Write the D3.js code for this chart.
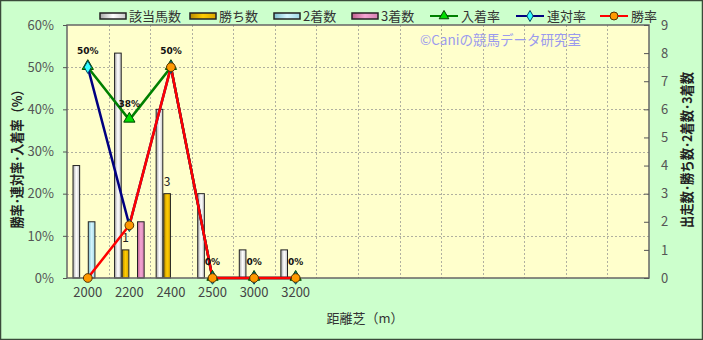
<!DOCTYPE html>
<html><head><meta charset="utf-8">
<script src="https://cdn.jsdelivr.net/npm/d3@7"></script>
<style>body{margin:0;background:#ccffcc;}svg{display:block;}</style>
</head><body>
<svg id="c" width="703" height="340"></svg>
<script>
const categories = ["2000","2200","2400","2500","3000","3200","","","","","","","",""];
const runners = [4,8,6,3,1,1];
const wins = [0,1,3,0,0,0];
const seconds = [2,0,0,0,0,0];
const thirds = [0,2,0,0,0,0];
const placeRate = [50,37.5,50,0,0,0];
const rentaiRate = [50,12.5,50,0,0,0];
const winRate = [0,12.5,50,0,0,0];
const leftTicks = [0,10,20,30,40,50,60];
const rightTicks = [0,1,2,3,4,5,6,7,8,9];

const svg = d3.select("#c");
const font = "'Noto Sans CJK JP','Noto Sans',sans-serif";
const L=67,R=649,T=25,B=278;
svg.append("rect").attr("x",0.5).attr("y",0.5).attr("width",702).attr("height",339)
  .attr("fill","#ccffcc").attr("stroke","#3a4a3a").attr("stroke-width",1.5);

const defs = svg.append("defs");
function grad(id, c1, c2, c3){
  const g = defs.append("linearGradient").attr("id",id).attr("x1","0").attr("x2","1").attr("y1","0").attr("y2","0");
  g.append("stop").attr("offset","0%").attr("stop-color",c1);
  g.append("stop").attr("offset","50%").attr("stop-color",c2);
  g.append("stop").attr("offset","100%").attr("stop-color",c3);
}
grad("gRun","#a8a8a8","#ffffff","#c8c8c8");
grad("gWin","#b88a00","#ffcc00","#d9a600");
grad("gSec","#7fbfcf","#d6f6ff","#9fd8e6");
grad("gThi","#c0608f","#f4a6d4","#d480b0");

const x = d3.scaleBand().domain(d3.range(categories.length)).range([L,R]);
const yL = d3.scaleLinear().domain([0,60]).range([B,T]);
const yR = d3.scaleLinear().domain([0,9]).range([B,T]);

svg.append("rect").attr("x",L).attr("y",T).attr("width",R-L).attr("height",B-T).attr("fill","#ffffcc");

// watermark
svg.append("text").attr("x",420).attr("y",45).attr("font-family",font).attr("font-size",13.5)
  .attr("fill","#9a9aee").text("©Caniの競馬データ研究室");

// grid
const grid = svg.append("g").attr("stroke","#b0b0a0").attr("stroke-dasharray","2,2").attr("stroke-width",1);
leftTicks.slice(1,-1).forEach(t=>grid.append("line").attr("x1",L).attr("x2",R).attr("y1",Math.round(yL(t))+0.5).attr("y2",Math.round(yL(t))+0.5));
d3.range(1,categories.length).forEach(i=>grid.append("line").attr("x1",Math.round(x(i))+0.5).attr("x2",Math.round(x(i))+0.5).attr("y1",T).attr("y2",B));

// bars
const inner = d3.scaleBand().domain([0,1,2,3]).range([5.5,x.bandwidth()-5.5]);
const series = [[runners,"url(#gRun)"],[wins,"url(#gWin)"],[seconds,"url(#gSec)"],[thirds,"url(#gThi)"]];
series.forEach(([vals,fill],si)=>{
  svg.append("g").selectAll("rect").data(vals).join("rect")
    .attr("x",(d,i)=>x(i)+inner(si)+0.5)
    .attr("y",d=>yR(d))
    .attr("width",inner.bandwidth()-1)
    .attr("height",d=>B-yR(d))
    .attr("fill",fill).attr("stroke",d=>d>0?"#222":"none").attr("stroke-width",1);
});
// win count labels
svg.append("g").selectAll("text").data(wins.map((v,i)=>({v,i})).filter(d=>d.v>0)).join("text")
  .attr("x",d=>x(d.i)+inner(1)+inner.bandwidth()/2)
  .attr("y",d=>yR(d.v)-8)
  .attr("text-anchor","middle").attr("font-family",font).attr("font-size",12).attr("fill","#222")
  .text(d=>d.v);

// frame
svg.append("rect").attr("x",L).attr("y",T).attr("width",R-L).attr("height",B-T)
  .attr("fill","none").attr("stroke","#666").attr("stroke-width",1.5);

// axes
const axL = svg.append("g").attr("transform",`translate(${L},0)`)
  .call(d3.axisLeft(yL).tickValues(leftTicks).tickSize(4).tickFormat(d=>d+"%"));
const axR = svg.append("g").attr("transform",`translate(${R},0)`)
  .call(d3.axisRight(yR).tickValues(rightTicks).tickSize(-5).tickPadding(12));
[axL,axR].forEach(a=>{
  a.select(".domain").remove();
  a.selectAll("line").attr("stroke","#555");
  a.selectAll("text").attr("font-family",font).attr("font-size",13).attr("fill","#555");
});
axL.selectAll("text").attr("dx",-6);
const axB = svg.append("g").attr("transform",`translate(0,${B})`)
  .call(d3.axisBottom(x).tickSize(0).tickPadding(10).tickFormat(i=>categories[i]));
axB.select(".domain").remove();
axB.selectAll("text").attr("font-family",font).attr("font-size",13).attr("fill","#444");

// axis titles
svg.append("text").attr("transform","translate(22,156) rotate(-90)").attr("text-anchor","middle")
  .attr("font-family",font).attr("font-size",13.5).attr("font-weight","bold").attr("fill","#222")
  .attr("textLength",145).attr("lengthAdjust","spacingAndGlyphs")
  .text("勝率･連対率･入着率（%）");
svg.append("text").attr("transform","translate(692,150) rotate(-90)").attr("text-anchor","middle")
  .attr("font-family",font).attr("font-size",13.5).attr("font-weight","bold").attr("fill","#222")
  .attr("textLength",156).attr("lengthAdjust","spacingAndGlyphs")
  .text("出走数･勝ち数･2着数･3着数");
svg.append("text").attr("x",365).attr("y",323).attr("text-anchor","middle")
  .attr("font-family",font).attr("font-size",13).attr("fill","#333").text("距離芝（m）");

// lines
const cx = i=>x(i)+x.bandwidth()/2;
const line = d3.line().x((d,i)=>cx(i)).y(d=>yL(d));
const lineDefs = [
  [placeRate,"#008000","tri","#00dd00","#004400"],
  [rentaiRate,"#000080","dia","#33ffff","#004466"],
  [winRate,"#ff0000","cir","#ff9900","#553300"]
];
lineDefs.forEach(([vals,col,sym,mfill,mstroke])=>{
  svg.append("path").datum(vals).attr("d",line).attr("fill","none").attr("stroke",col).attr("stroke-width",2.5);
});
lineDefs.forEach(([vals,col,sym,mfill,mstroke])=>{
  const s = sym==="tri"?d3.symbol(d3.symbolTriangle,55):sym==="dia"?d3.symbol(d3.symbolDiamond,45):d3.symbol(d3.symbolCircle,60);
  svg.append("g").selectAll("path").data(vals).join("path")
    .attr("transform",(d,i)=>`translate(${cx(i)},${yL(d)+(sym==="tri"?-1:0)})`)
    .attr("d",s).attr("fill",mfill).attr("stroke",mstroke).attr("stroke-width",1);
});
// place rate labels
svg.append("g").selectAll("text").data(placeRate).join("text")
  .attr("x",(d,i)=>cx(i)).attr("y",d=>yL(d)-13)
  .attr("text-anchor","middle").attr("font-family","'DejaVu Sans',sans-serif").attr("font-size",9)
  .attr("font-weight","bold").attr("fill","#111")
  .text(d=>Math.round(d)+"%");

// legend
const leg = svg.append("g").attr("font-family",font).attr("font-size",13).attr("fill","#333");
const barLeg = [["該当馬数","url(#gRun)",100],["勝ち数","url(#gWin)",190],["2着数","url(#gSec)",274],["3着数","url(#gThi)",352]];
barLeg.forEach(([t,f,lx])=>{
  leg.append("rect").attr("x",lx).attr("y",13).attr("width",26).attr("height",6).attr("fill",f).attr("stroke","#222").attr("stroke-width",1.5);
  leg.append("text").attr("x",lx+29).attr("y",21).text(t);
});
const lineLeg = [["入着率","#008000",d3.symbol(d3.symbolTriangle,40),"#00dd00","#004400",430],
                 ["連対率","#000080",d3.symbol(d3.symbolDiamond,35),"#33ffff","#004466",516],
                 ["勝率","#ff0000",d3.symbol(d3.symbolCircle,50),"#ff9900","#553300",600]];
lineLeg.forEach(([t,c,s,mf,ms,lx])=>{
  leg.append("line").attr("x1",lx).attr("x2",lx+28).attr("y1",16).attr("y2",16).attr("stroke",c).attr("stroke-width",2);
  leg.append("path").attr("transform",`translate(${lx+14},16)`).attr("d",s).attr("fill",mf).attr("stroke",ms);
  leg.append("text").attr("x",lx+31).attr("y",21).text(t);
});
</script>
</body></html>
